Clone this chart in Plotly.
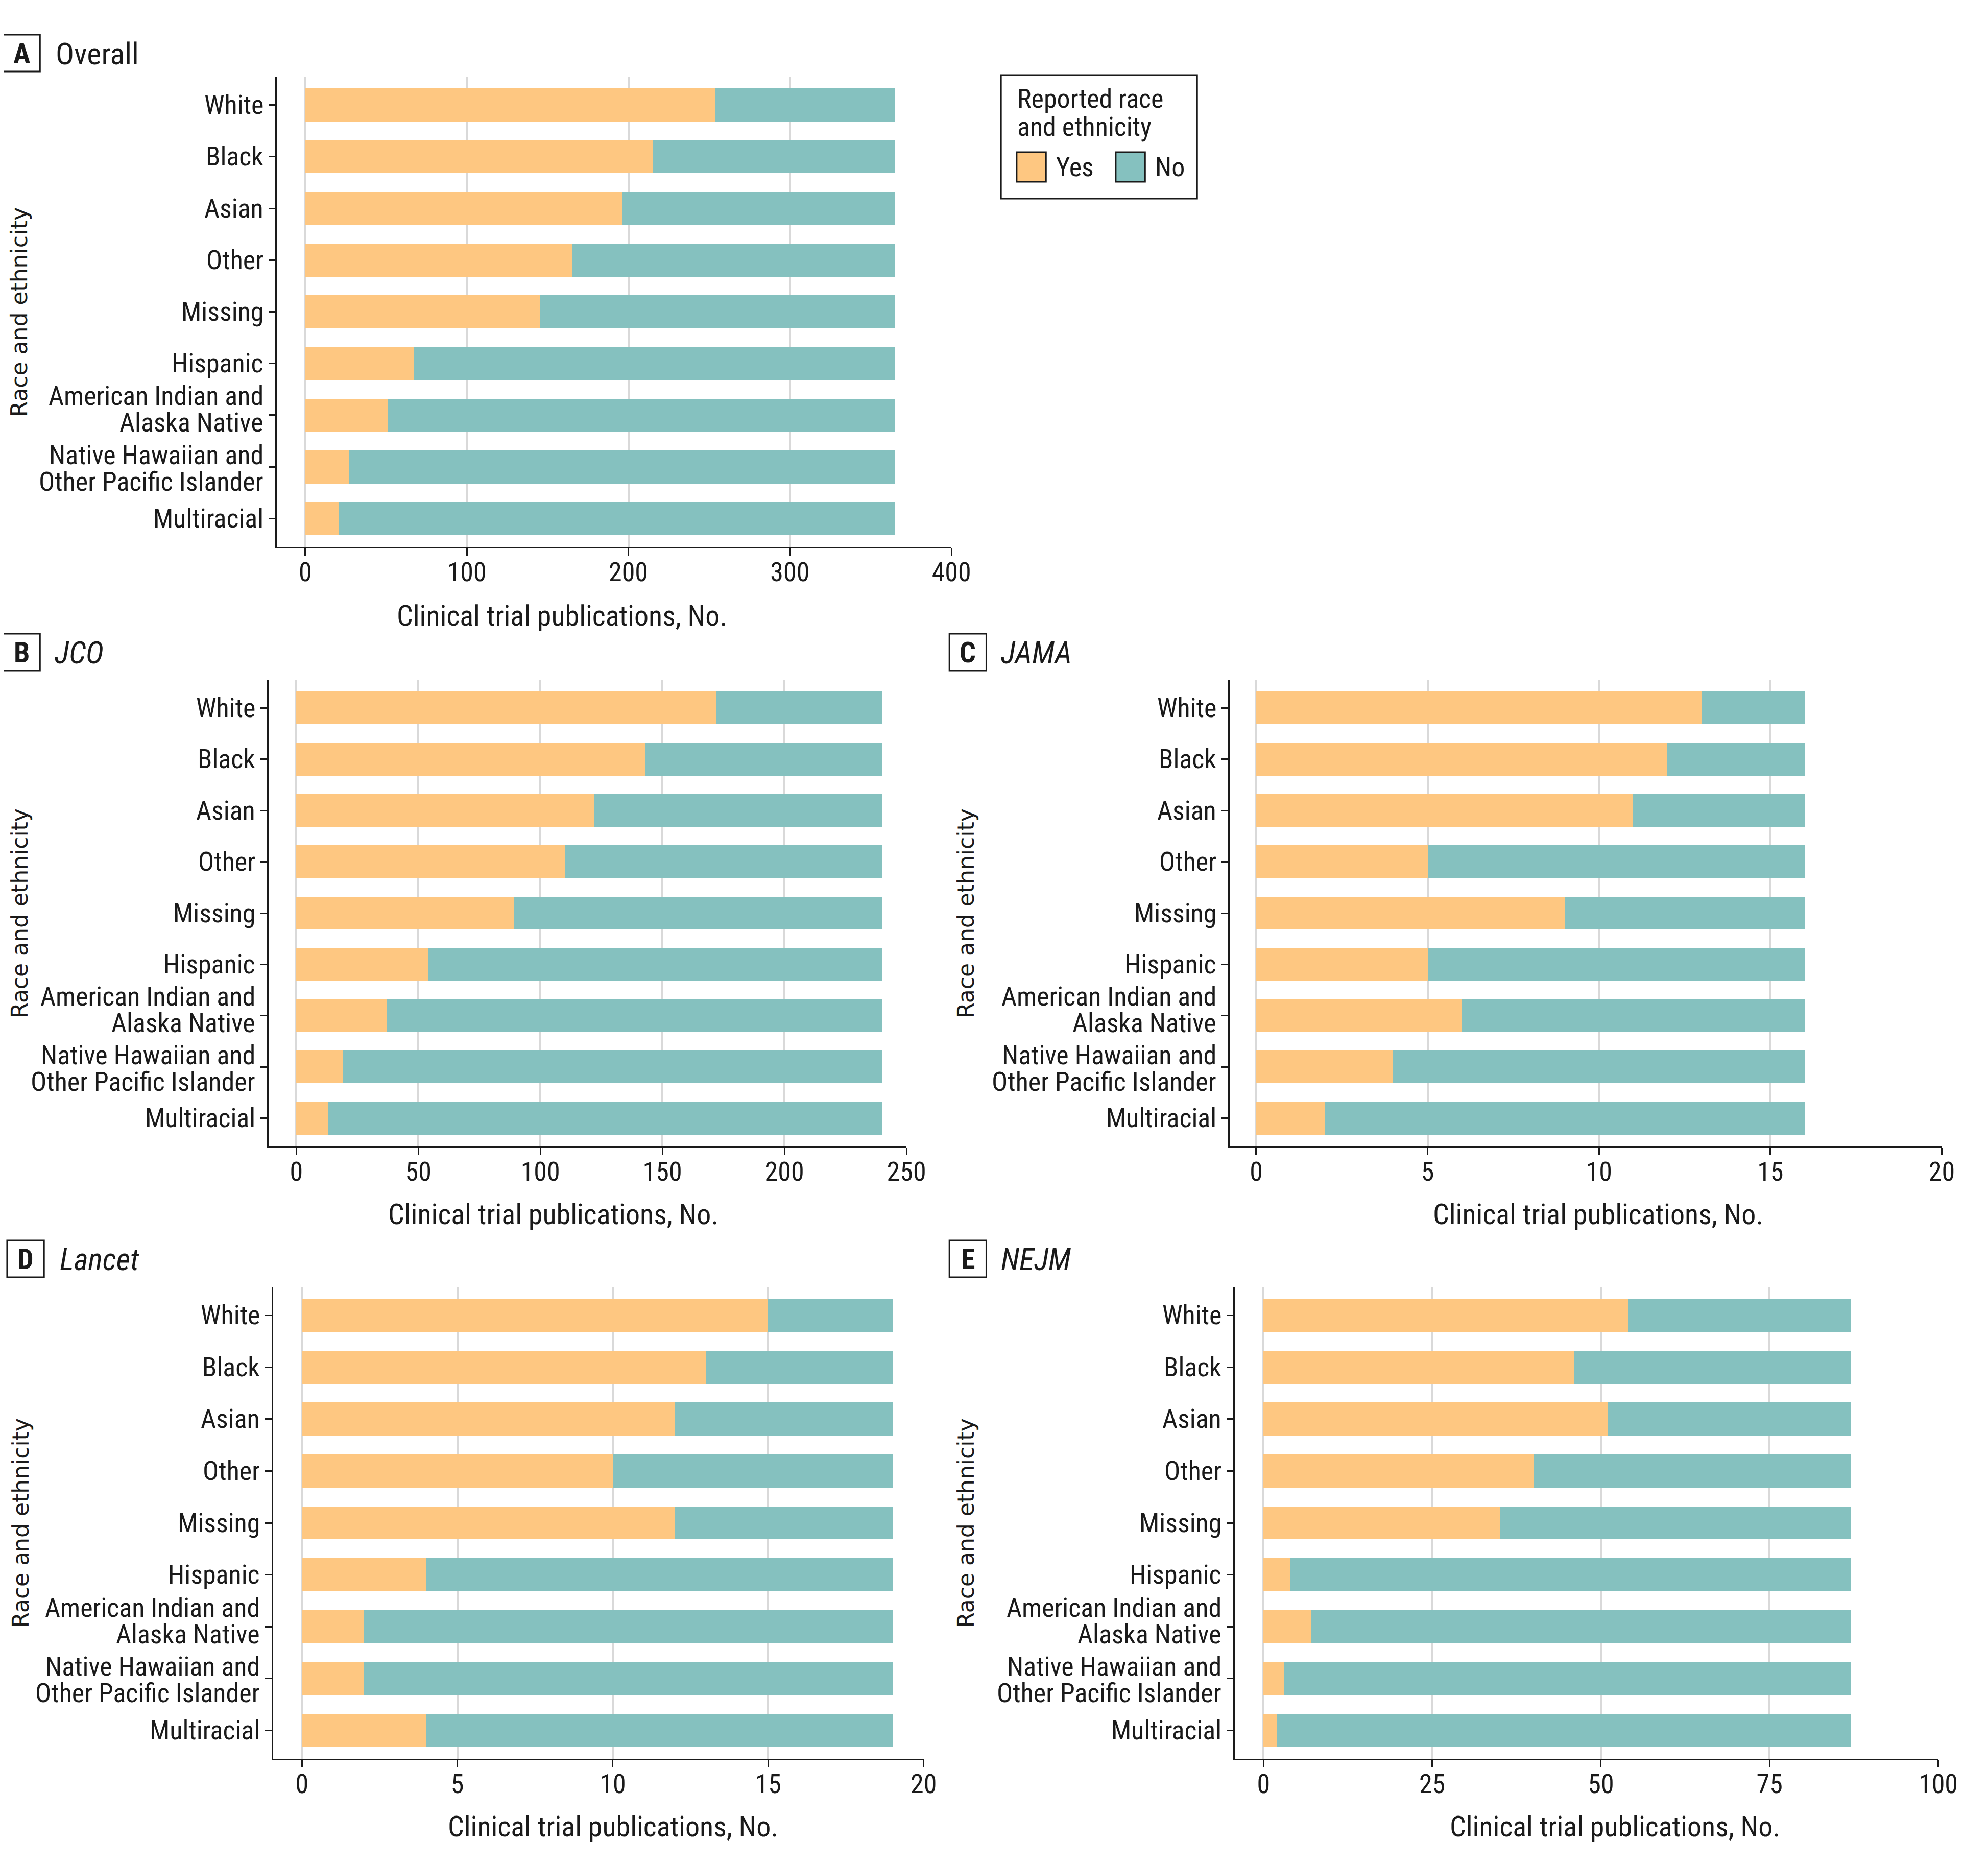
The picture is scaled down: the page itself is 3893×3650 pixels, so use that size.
"""
Race and ethnicity reporting in clinical trial publications, overall and by journal.
Stacked horizontal bars (Yes / No), five panels A-E.
"""
import plotly.graph_objects as go


# ─── data ─────────────────────────────────────────────────────────────────────
CATEGORIES = ["White", "Black", "Asian", "Other", "Missing", "Hispanic",
              "American Indian and Alaska Native",
              "Native Hawaiian and Other Pacific Islander", "Multiracial"]
TICK_LINES = [["White"], ["Black"], ["Asian"], ["Other"], ["Missing"], ["Hispanic"],
              ["American Indian and", "Alaska Native"],
              ["Native Hawaiian and", "Other Pacific Islander"], ["Multiracial"]]

OVERALL_YES = [254, 215, 196, 165, 145, 67, 51, 27, 21]
OVERALL_NO = [111, 150, 169, 200, 220, 298, 314, 338, 344]
JCO_YES = [172, 143, 122, 110, 89, 54, 37, 19, 13]
JCO_NO = [68, 97, 118, 130, 151, 186, 203, 221, 227]
JAMA_YES = [13, 12, 11, 5, 9, 5, 6, 4, 2]
JAMA_NO = [3, 4, 5, 11, 7, 11, 10, 12, 14]
LANCET_YES = [15, 13, 12, 10, 12, 4, 2, 2, 4]
LANCET_NO = [4, 6, 7, 9, 7, 15, 17, 17, 15]
NEJM_YES = [54, 46, 51, 40, 35, 4, 7, 3, 2]
NEJM_NO = [33, 41, 36, 47, 52, 83, 80, 84, 85]

X_TICKS_OVERALL = [0, 100, 200, 300, 400]
X_TICKS_JCO = [0, 50, 100, 150, 200, 250]
X_TICKS_JAMA = [0, 5, 10, 15, 20]
X_TICKS_LANCET = [0, 5, 10, 15, 20]
X_TICKS_NEJM = [0, 25, 50, 75, 100]

# ─── style ────────────────────────────────────────────────────────────────────
W, H = 3893, 3650
PAGE_MARGIN = 8          # default <body> margin of the html page
FW, FH = W - 2 * PAGE_MARGIN, H - 2 * PAGE_MARGIN
YES_COLOR = "#FEC781"
NO_COLOR = "#85C1BF"
GRID = "#D9D9D9"
INK = "#1a1a1a"
COND = "Liberation Sans Narrow, Arial Narrow, Roboto Condensed, DejaVu Sans Condensed, sans-serif"
FS_CAT = 52
FS_TICK = 52
FS_TITLE = 56


def px_x(p):
    return (p - PAGE_MARGIN) / FW


def px_y(p):
    return 1 - (p - PAGE_MARGIN) / FH


# line offsets (px, up positive) for the two-line category labels
LINE_SHIFTS = {
    "American Indian and Alaska Native": [37, -15],
    "Native Hawaiian and Other Pacific Islander": [23, -29],
}

# (letter, title, yes, no, ticks, xrange, plot box px [x0, x1, y0, y1],
#  label box x0, label box top, title x, ytitle x, xtitle center x, xtitle y)
PANELS = [
    ("A", "Overall", OVERALL_YES, OVERALL_NO, X_TICKS_OVERALL, [-17.8, 400],
     [547, 1882, 150, 1071], 6, 68, 108, 38, 1112, 1206),
    ("B", "<i>JCO</i>", JCO_YES, JCO_NO, X_TICKS_JCO, [-11.4, 250],
     [531, 1793, 1331, 2245], 6, 1241, 106, 38, 1094, 2378),
    ("C", "<i>JAMA</i>", JAMA_YES, JAMA_NO, X_TICKS_JAMA, [-0.78, 20],
     [2432, 3841, 1331, 2245], 1878, 1241, 1978, 1910, 3161, 2378),
    ("D", "<i>Lancet</i>", LANCET_YES, LANCET_NO, X_TICKS_LANCET, [-0.93, 20],
     [540, 1827, 2520, 3444], 14, 2429, 116, 40, 1213, 3577),
    ("E", "<i>NEJM</i>", NEJM_YES, NEJM_NO, X_TICKS_NEJM, [-4.3, 100],
     [2442, 3834, 2520, 3444], 1878, 2429, 1978, 1910, 3195, 3577),
]

fig = go.Figure()
annotations = []
shapes = []
layout_axes = {}

for i, (letter, title, yes, no, ticks, xr, box, lbx, top, tx, ytx, xtx, xty) in enumerate(PANELS, start=1):
    xa = "x" if i == 1 else f"x{i}"
    ya = "y" if i == 1 else f"y{i}"
    xkey = "xaxis" if i == 1 else f"xaxis{i}"
    ykey = "yaxis" if i == 1 else f"yaxis{i}"

    fig.add_trace(go.Bar(y=CATEGORIES, x=yes, orientation="h", name="Yes",
                         marker=dict(color=YES_COLOR, line=dict(width=0)),
                         width=0.64, xaxis=xa, yaxis=ya, showlegend=False))
    fig.add_trace(go.Bar(y=CATEGORIES, x=no, orientation="h", name="No",
                         marker=dict(color=NO_COLOR, line=dict(width=0)),
                         width=0.64, xaxis=xa, yaxis=ya, showlegend=False))

    x0, x1, y0, y1 = box
    layout_axes[xkey] = dict(
        domain=[px_x(x0), px_x(x1)], anchor=ya, range=xr,
        tickvals=ticks, showgrid=True, gridcolor=GRID, gridwidth=4,
        zeroline=False, showline=True, linecolor=INK, linewidth=3,
        ticks="outside", ticklen=14, tickwidth=2.5, tickcolor=INK,
        ticklabelstandoff=-12,
        tickfont=dict(family=COND, size=FS_TICK, color=INK), fixedrange=True,
    )
    layout_axes[ykey] = dict(
        domain=[px_y(y1), px_y(y0)], anchor=xa, type="category",
        categoryorder="array", categoryarray=CATEGORIES,
        range=[8.55, -0.55], showgrid=False, zeroline=False,
        showline=True, linecolor=INK, linewidth=3,
        ticks="outside", ticklen=13, tickwidth=2.5, tickcolor=INK,
        showticklabels=False, fixedrange=True,
    )

    # category labels (tight two-line spacing as in the original)
    for cat, lines in zip(CATEGORIES, TICK_LINES):
        shifts = LINE_SHIFTS.get(cat, [0])
        for line, sh in zip(lines, shifts):
            annotations.append(dict(
                text=line, xref=f"{xa} domain", x=0, xshift=-24, xanchor="right",
                yref=ya, y=cat, yshift=sh, yanchor="middle", showarrow=False,
                font=dict(family=COND, size=FS_CAT, color=INK)))

    # axis titles
    annotations.append(dict(
        text="Race and ethnicity", textangle=-90, xref="paper", yref="paper",
        x=px_x(ytx), y=px_y((y0 + y1) / 2), xanchor="center", yanchor="middle",
        showarrow=False, font=dict(family="DejaVu Sans", size=44, color=INK)))
    annotations.append(dict(
        text="Clinical trial publications, No.", xref="paper", yref="paper",
        x=px_x(xtx), y=px_y(xty), xanchor="center", yanchor="middle",
        showarrow=False, font=dict(family=COND, size=FS_TITLE, color=INK)))

    # panel letter box + title
    shapes.append(dict(type="rect", xref="paper", yref="paper",
                       x0=px_x(lbx), x1=px_x(lbx + 73), y0=px_y(top + 72), y1=px_y(top),
                       line=dict(color=INK, width=3), fillcolor="white"))
    annotations.append(dict(
        text=f"<b>{letter}</b>", xref="paper", yref="paper",
        x=px_x(lbx + 36.5), y=px_y(top + 37), xanchor="center", yanchor="middle",
        showarrow=False, font=dict(family=COND, size=FS_TITLE, color=INK)))
    annotations.append(dict(
        text=title, xref="paper", yref="paper",
        x=px_x(tx), y=px_y(top + 37), xanchor="left", yanchor="middle",
        showarrow=False, font=dict(family=COND, size=60, color=INK)))

# legend drawn by hand
shapes.append(dict(type="rect", xref="paper", yref="paper",
                   x0=px_x(1980), x1=px_x(2368), y0=px_y(389), y1=px_y(147),
                   line=dict(color=INK, width=3), fillcolor="white"))
for sx, col, lab in [(2011, YES_COLOR, "Yes"), (2207, NO_COLOR, "No")]:
    shapes.append(dict(type="rect", xref="paper", yref="paper",
                       x0=px_x(sx), x1=px_x(sx + 58), y0=px_y(356), y1=px_y(298),
                       line=dict(color=INK, width=3), fillcolor=col))
    annotations.append(dict(
        text=lab, xref="paper", yref="paper", x=px_x(sx + 76), y=px_y(328),
        xanchor="left", yanchor="middle", showarrow=False,
        font=dict(family=COND, size=52, color=INK)))
for ly, txt in [(193, "Reported race"), (248, "and ethnicity")]:
    annotations.append(dict(
        text=txt, xref="paper", yref="paper", x=px_x(2010), y=px_y(ly),
        xanchor="left", yanchor="middle", showarrow=False,
        font=dict(family=COND, size=52, color=INK)))

fig.update_layout(
    width=FW, height=FH,
    margin=dict(l=0, r=0, t=0, b=0),
    barmode="stack", bargap=0.36,
    plot_bgcolor="white", paper_bgcolor="white",
    annotations=annotations, shapes=shapes,
    **layout_axes,
)
fig.write_html("out.html")
